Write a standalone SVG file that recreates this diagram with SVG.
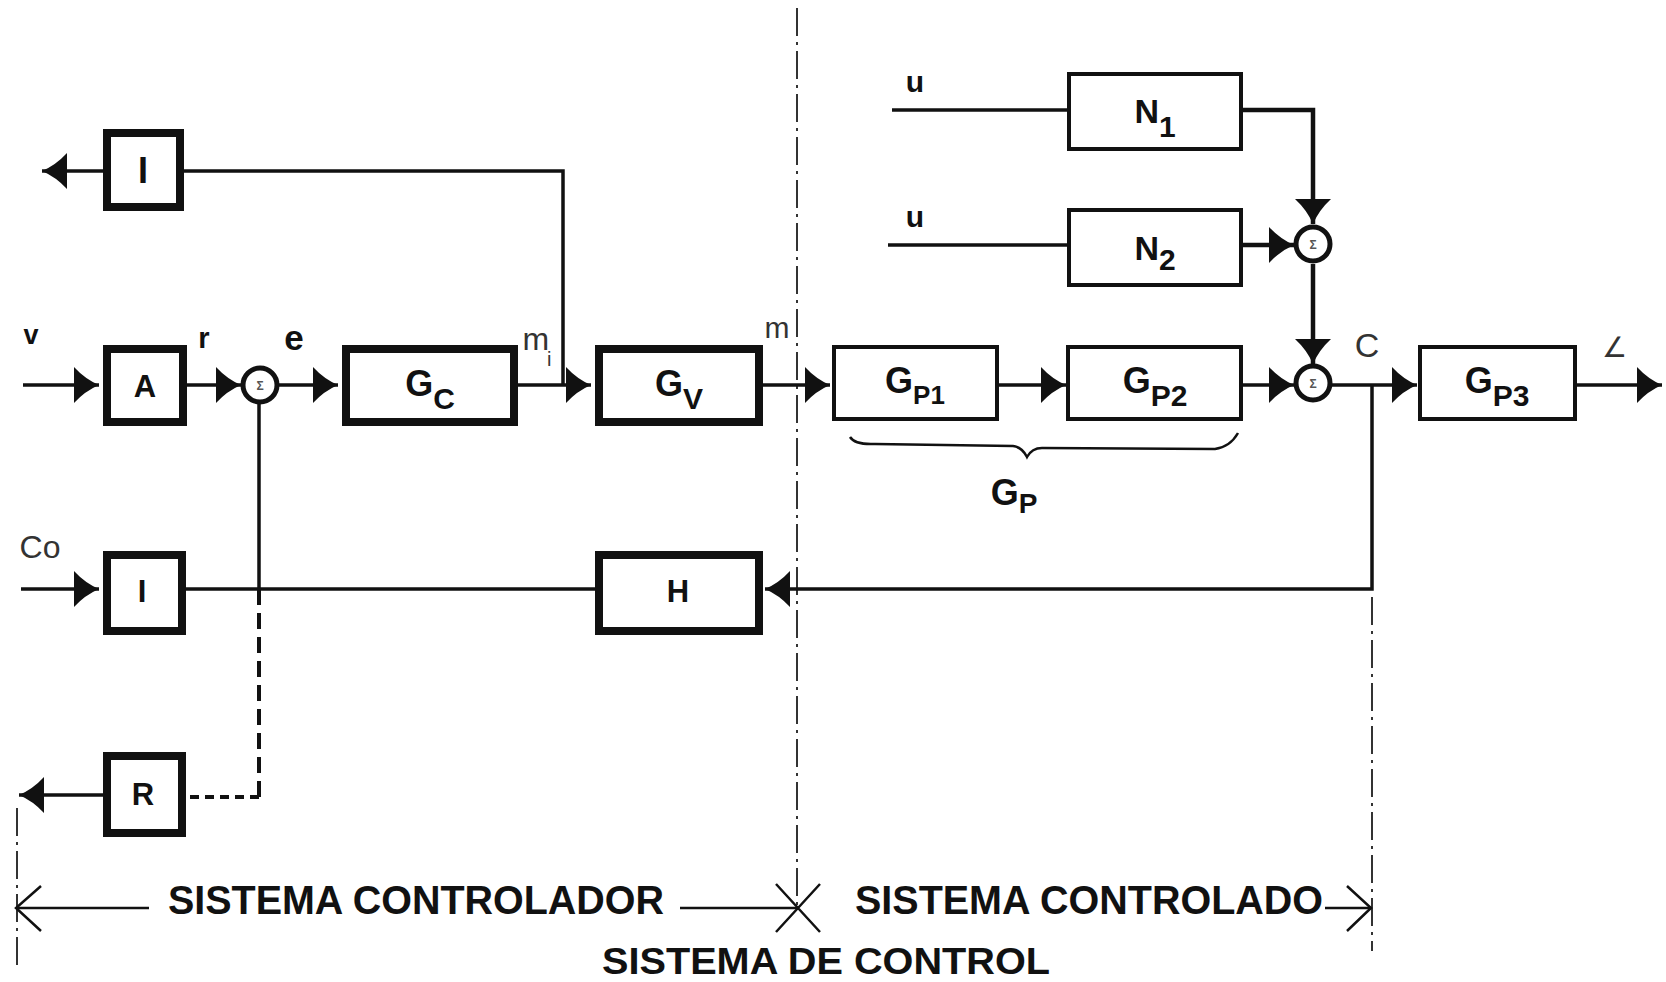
<svg xmlns="http://www.w3.org/2000/svg" width="1666" height="982" viewBox="0 0 1666 982">
<style>
  .bg{fill:#ffffff}
  .thick{fill:#ffffff;stroke:#111;stroke-width:8}
  .thin{fill:#ffffff;stroke:#111;stroke-width:4}
  .ln{fill:none;stroke:#111;stroke-width:3.5}
  .lnb{fill:none;stroke:#111;stroke-width:4.5}
  .dash{fill:none;stroke:#111;stroke-width:4;stroke-dasharray:16 8}
  .dashs{fill:none;stroke:#111;stroke-width:4;stroke-dasharray:9 6}
  .dd{fill:none;stroke:#333;stroke-width:2;stroke-dasharray:28 6 3 6}
  .dim{fill:none;stroke:#111;stroke-width:2.5}
  .sum{fill:#ffffff;stroke:#111;stroke-width:5}
  .sig{font-family:"Liberation Sans",Arial,sans-serif;font-size:12px;font-weight:bold;fill:#555;text-anchor:middle}
  .lbl{font-family:"Liberation Sans",Arial,sans-serif;font-weight:bold;fill:#111;text-anchor:middle}
  .lt{font-family:"Liberation Sans",Arial,sans-serif;font-weight:normal;fill:#333;text-anchor:middle}
  .cap{font-family:"Liberation Sans",Arial,sans-serif;font-weight:bold;fill:#111;text-anchor:middle}
</style>
<defs>
  <marker id="ah" markerUnits="userSpaceOnUse" markerWidth="26" markerHeight="38" viewBox="0 0 26 38" refX="25" refY="19" orient="auto">
    <path d="M0,1 Q11,13 25,19 Q11,25 0,37 Z" fill="#111"/>
  </marker>
</defs>
<rect class="bg" x="0" y="0" width="1666" height="982"/>

<!-- boundary / dimension lines -->
<g id="boundaries">
  <path class="dd" d="M797,8 V905"/>
  <path class="dd" d="M17,808 V967"/>
  <path class="dd" d="M1372,597 V951"/>
  <path class="dim" d="M17,908 H149 M680,908 H797 M1325,908 H1371"/>
  <path class="dim" d="M41,886 L16,908 L41,931"/>
  <path class="dim" d="M776,884 L820,932 M776,932 L820,884"/>
  <path class="dim" d="M1347,886 L1371,908 L1347,931"/>
  <path class="dim" d="M850,437 Q855,445 875,444 L1013,446 Q1022,447 1027,457 Q1032,448 1042,448 L1215,449 Q1230,447 1238,433"/>
</g>

<!-- connectors -->
<g id="connectors">
  <path class="ln" d="M184,171 H563 V385"/>
  <path class="ln" d="M103,171 H42" marker-end="url(#ah)"/>
  <path class="ln" d="M23,385 H99" marker-end="url(#ah)"/>
  <path class="ln" d="M187,385 H241" marker-end="url(#ah)"/>
  <path class="ln" d="M279,385 H338" marker-end="url(#ah)"/>
  <path class="ln" d="M518,385 H591" marker-end="url(#ah)"/>
  <path class="ln" d="M763,385 H830" marker-end="url(#ah)"/>
  <path class="ln" d="M999,385 H1066" marker-end="url(#ah)"/>
  <path class="ln" d="M1243,385 H1294" marker-end="url(#ah)"/>
  <path class="ln" d="M1332,385 H1417" marker-end="url(#ah)"/>
  <path class="ln" d="M1577,385 H1662" marker-end="url(#ah)"/>
  <path class="ln" d="M892,110 H1067"/>
  <path class="ln" d="M888,245 H1067"/>
  <path class="lnb" d="M1243,110 H1313 V224" marker-end="url(#ah)"/>
  <path class="lnb" d="M1243,245 H1294" marker-end="url(#ah)"/>
  <path class="lnb" d="M1313,264 V364" marker-end="url(#ah)"/>
  <path class="ln" d="M1372,385 V589 H765" marker-end="url(#ah)"/>
  <path class="ln" d="M21,589 H99" marker-end="url(#ah)"/>
  <path class="ln" d="M186,589 H595"/>
  <path class="ln" d="M259,404 V589"/>
  <path class="dash" d="M259,589 V797"/>
  <path class="dashs" d="M259,797 H186"/>
  <path class="ln" d="M103,795 H19" marker-end="url(#ah)"/>
</g>

<!-- signal labels -->
<g id="signals">
  <text class="lbl" x="31" y="344" font-size="27">v</text>
  <text class="lbl" x="204" y="348" font-size="29">r</text>
  <text class="lbl" x="294" y="350" font-size="35">e</text>
  <text class="lt" x="537" y="350" font-size="32">m<tspan font-size="20" dx="-2" dy="16">i</tspan></text>
  <text class="lt" x="777" y="338" font-size="30">m</text>
  <text class="lt" x="1367" y="357" font-size="34">C</text>
  <text class="lt" x="1614" y="357" font-size="28">∠</text>
  <text class="lbl" x="915" y="92" font-size="30">u</text>
  <text class="lbl" x="915" y="227" font-size="30">u</text>
  <text class="lt" x="40" y="558" font-size="32" fill="#555">Co</text>
  <text class="lbl" x="1014" y="505" font-size="36">G<tspan font-size="28" dy="8">P</tspan></text>
</g>

<!-- nodes -->
<g id="node-I-top">
  <rect class="thick" x="107" y="133" width="73" height="74"/>
  <text class="lbl" x="143" y="183" font-size="36">I</text>
</g>
<g id="node-A">
  <rect class="thick" x="107" y="349" width="76" height="73"/>
  <text class="lbl" x="145" y="397" font-size="31">A</text>
</g>
<g id="sum-1">
  <circle class="sum" cx="260" cy="385" r="17"/>
  <text class="sig" x="260" y="390">Σ</text>
</g>
<g id="node-Gc">
  <rect class="thick" x="346" y="349" width="168" height="73"/>
  <text class="lbl" x="430" y="396" font-size="36">G<tspan font-size="30" dy="13">C</tspan></text>
</g>
<g id="node-Gv">
  <rect class="thick" x="599" y="349" width="160" height="73"/>
  <text class="lbl" x="679" y="396" font-size="36">G<tspan font-size="30" dy="13">V</tspan></text>
</g>
<g id="node-Gp1">
  <rect class="thin" x="834" y="347" width="163" height="72"/>
  <text class="lbl" x="915" y="393" font-size="36">G<tspan font-size="26" dy="11">P1</tspan></text>
</g>
<g id="node-Gp2">
  <rect class="thin" x="1068" y="347" width="173" height="72"/>
  <text class="lbl" x="1155" y="393" font-size="36">G<tspan font-size="30" dy="13">P2</tspan></text>
</g>
<g id="sum-2">
  <circle class="sum" cx="1313" cy="383" r="17"/>
  <text class="sig" x="1313" y="388">Σ</text>
</g>
<g id="node-Gp3">
  <rect class="thin" x="1420" y="347" width="155" height="72"/>
  <text class="lbl" x="1497" y="393" font-size="36">G<tspan font-size="30" dy="13">P3</tspan></text>
</g>
<g id="node-N1">
  <rect class="thin" x="1069" y="74" width="172" height="75"/>
  <text class="lbl" x="1155" y="123" font-size="34">N<tspan font-size="30" dy="14">1</tspan></text>
</g>
<g id="node-N2">
  <rect class="thin" x="1069" y="210" width="172" height="75"/>
  <text class="lbl" x="1155" y="260" font-size="34">N<tspan font-size="30" dy="10">2</tspan></text>
</g>
<g id="sum-3">
  <circle class="sum" cx="1313" cy="244" r="17"/>
  <text class="sig" x="1313" y="249">Σ</text>
</g>
<g id="node-I-bottom">
  <rect class="thick" x="107" y="555" width="75" height="76"/>
  <text class="lbl" x="142" y="602" font-size="31">I</text>
</g>
<g id="node-H">
  <rect class="thick" x="599" y="555" width="160" height="76"/>
  <text class="lbl" x="678" y="602" font-size="31">H</text>
</g>
<g id="node-R">
  <rect class="thick" x="107" y="756" width="75" height="77"/>
  <text class="lbl" x="143" y="805" font-size="31">R</text>
</g>

<!-- captions -->
<g id="captions">
  <text class="cap" x="416" y="914" font-size="40" textLength="496" lengthAdjust="spacingAndGlyphs">SISTEMA CONTROLADOR</text>
  <text class="cap" x="1089" y="914" font-size="40" textLength="468" lengthAdjust="spacingAndGlyphs">SISTEMA CONTROLADO</text>
  <text class="cap" x="826" y="974" font-size="36" textLength="448" lengthAdjust="spacingAndGlyphs">SISTEMA DE CONTROL</text>
</g>
</svg>
